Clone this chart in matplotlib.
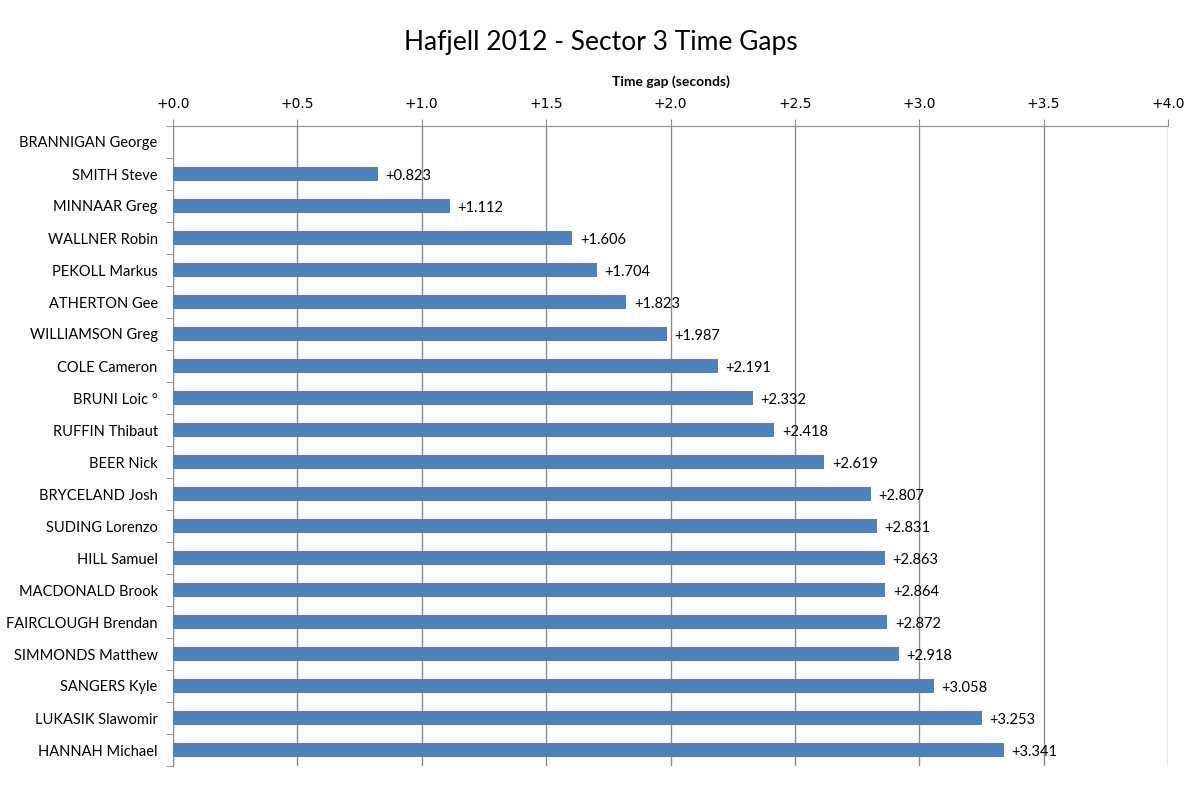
import matplotlib.pyplot as plt
from matplotlib.ticker import MultipleLocator, FuncFormatter

riders = ["BRANNIGAN George", "SMITH Steve", "MINNAAR Greg", "WALLNER Robin",
          "PEKOLL Markus", "ATHERTON Gee", "WILLIAMSON Greg", "COLE Cameron",
          "BRUNI Loic °", "RUFFIN Thibaut", "BEER Nick", "BRYCELAND Josh",
          "SUDING Lorenzo", "HILL Samuel", "MACDONALD Brook", "FAIRCLOUGH Brendan",
          "SIMMONDS Matthew", "SANGERS Kyle", "LUKASIK Slawomir", "HANNAH Michael"]
gaps = [0.0, 0.823, 1.112, 1.606, 1.704, 1.823, 1.987, 2.191, 2.332, 2.418,
        2.619, 2.807, 2.831, 2.863, 2.864, 2.872, 2.918, 3.058, 3.253, 3.341]

fig = plt.figure(figsize=(12.02, 7.85), dpi=100)
ax = fig.add_axes([173 / 1202, 1 - 766 / 785, 995 / 1202, 640 / 785])

ypos = list(range(len(riders)))
ax.barh(ypos, gaps, height=0.42, color='#4F81BD', zorder=3)
for y, g in zip(ypos, gaps):
    if g > 0:
        ax.text(g + 0.03, y + 0.05, '+%.3f' % g, va='center', ha='left',
                fontsize=10.5, family='Lato', zorder=4)

ax.set_xlim(0, 4.0)
ax.set_ylim(len(riders) - 0.5, -0.5)
ax.xaxis.set_major_locator(MultipleLocator(0.5))
ax.xaxis.set_major_formatter(FuncFormatter(lambda v, p: '+%.1f' % v))
ax.xaxis.tick_top()
ax.xaxis.set_label_position('top')
ax.set_xlabel('Time gap (seconds)', fontsize=10, fontweight='bold', family='Lato', labelpad=8)
ax.grid(axis='x', color='#8c8c8c', linewidth=1, zorder=0)

ax.set_yticks(ypos)
ax.set_yticklabels(riders, fontsize=10.5, family='Lato')
ax.set_yticks([y + 0.5 for y in ypos[:-1]] + [-0.5, len(riders) - 0.5], minor=True)
ax.tick_params(axis='y', which='major', length=0, pad=11)
ax.tick_params(axis='y', which='minor', length=5, color='#8c8c8c')
ax.tick_params(axis='x', length=5, color='#8c8c8c', labelsize=10, pad=6)

for s in ['right', 'bottom']:
    ax.spines[s].set_visible(False)
ax.spines['top'].set_color('#8c8c8c')
ax.spines['left'].set_color('#8c8c8c')

fig.suptitle('Hafjell 2012 - Sector 3 Time Gaps', fontsize=19, family='Lato', y=0.962)

fig.savefig('out.png', dpi=100)
